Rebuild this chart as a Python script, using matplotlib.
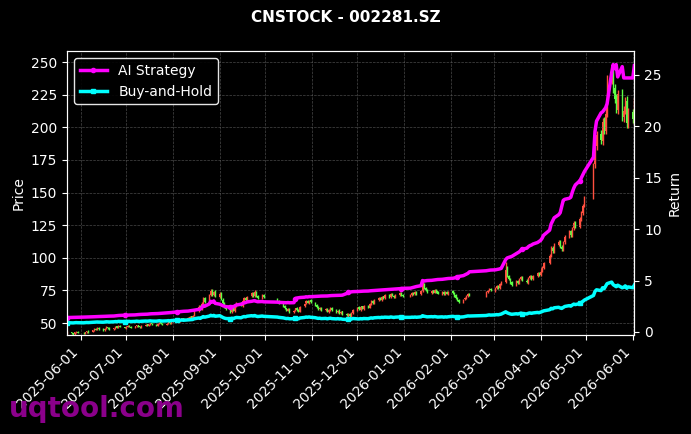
import matplotlib
matplotlib.use("Agg")
import matplotlib.pyplot as plt
import matplotlib.dates as mdates
import numpy as np
import pandas as pd

# exchange holidays (no candles on these weekdays)
holidays = ["2025-06-02", "2025-10-01", "2025-10-02", "2025-10-03", "2025-10-06",
            "2025-10-07", "2025-10-08", "2026-01-01", "2026-01-02", "2026-02-16",
            "2026-02-17", "2026-02-18", "2026-02-19", "2026-02-20", "2026-02-23",
            "2026-04-06", "2026-05-01", "2026-05-04", "2026-05-05"]
dates = pd.bdate_range("2025-05-23", "2026-06-02", freq="C", holidays=holidays)

opens = [
    42.4, 43.1, 42.3, 41.6, 42.9, 43.4,
    42.7, 42.1, 42.8, 43.9, 43.2, 44.4, 45.7, 44.9, 46.3, 45.5, 44.5, 45.9, 46.8, 46.2, 45.1, 46.1, 47.4, 46.4, 47.9, 46.9,
    46.3, 47.1, 47.9, 47.3, 46.4, 47.5, 48.3, 47.5, 46.8, 48.0, 48.9, 48.0, 49.1, 49.9, 48.8, 48.1, 49.4, 50.5, 49.5, 48.6, 49.6, 50.7, 49.7,
    51.0, 51.7, 52.5, 51.4, 52.9, 53.7, 52.6, 54.0, 55.1, 54.1, 55.8, 59.2, 62.7, 60.5, 65.3, 69.0, 66.0, 71.2, 74.8, 71.3, 74.2,
    70.2, 72.9, 68.0, 65.4, 62.0, 60.8, 58.6, 61.5, 59.4, 63.1, 65.2, 63.2, 66.9, 69.2, 67.1, 70.4, 73.1, 70.8, 73.9, 70.6, 69.0, 71.7,
    68.2, 66.8, 65.0, 63.3, 61.2, 59.6, 61.1, 58.5, 59.7, 61.5, 60.3, 58.7, 62.7, 65.0, 67.1, 65.3, 67.5,
    65.6, 64.1, 62.3, 60.6, 61.9, 59.7, 60.8, 58.6, 60.1, 61.7, 59.9, 58.2, 59.8, 57.7, 59.0, 57.3, 55.6, 57.1, 55.2, 57.8,
    60.0, 62.0, 60.2, 62.7, 60.8, 63.4, 61.9, 64.8, 67.0, 65.1, 67.7, 69.3, 67.8, 70.4, 69.2, 71.5, 69.9, 72.6, 71.0, 69.6, 71.7, 73.1, 71.4,
    70.9, 71.6, 73.2, 71.9, 73.8, 72.2, 74.7, 79.5, 77.0, 75.3, 73.2, 75.0, 73.3, 75.4, 74.2, 72.4, 74.1, 72.1, 74.0, 72.3,
    74.3, 73.0, 71.2, 69.4, 67.6, 65.9, 68.1, 69.3, 70.6, 72.2, 71.0, 73.7, 75.1, 76.4,
    74.8, 77.0, 78.7, 77.0, 79.8, 81.6, 91.2, 86.0, 83.7, 81.2, 79.2, 82.3, 80.4, 83.6, 85.2, 82.6, 81.0, 84.7, 86.3, 83.8, 86.0, 88.4,
    87.1, 89.8, 92.1, 96.2, 101.5, 107.9, 104.7, 110.1, 112.7, 108.3, 106.6, 111.8, 116.5, 120.2, 117.0, 122.8, 127.2, 123.8, 129.8, 134.5, 140.2,
    147.3, 172.0, 185.9, 195.1, 189.8, 204.5, 197.6, 211.0, 237.5, 245.0, 230.1, 222.4, 213.5, 226.3, 207.6, 213.3, 220.1, 202.9,
    211.8, 205.9,
]
highs = [
    43.6, 43.5, 42.7, 43.2, 44.1, 43.8,
    43.1, 43.3, 44.2, 44.3, 44.9, 46.1, 46.0, 46.7, 46.8, 45.9, 46.2, 47.4, 47.2, 46.6, 46.4, 47.8, 47.9, 48.3, 48.4, 47.3,
    47.5, 48.3, 48.3, 47.7, 47.9, 48.7, 48.7, 47.9, 48.4, 49.3, 49.3, 49.5, 50.3, 50.3, 49.2, 49.8, 50.9, 50.9, 49.9, 50.0, 51.1, 51.1, 51.4,
    52.1, 52.9, 52.9, 53.3, 54.1, 54.2, 54.4, 55.6, 55.6, 56.2, 59.8, 63.8, 63.5, 65.9, 70.1, 69.8, 72.0, 76.3, 75.8, 74.9, 75.1,
    73.8, 74.0, 68.9, 66.3, 62.9, 61.6, 62.1, 62.3, 63.6, 65.8, 66.1, 67.5, 69.8, 69.9, 71.0, 73.9, 73.8, 75.2, 74.6, 71.4, 72.2, 72.4,
    69.0, 67.5, 65.8, 63.9, 61.9, 61.5, 61.8, 60.2, 61.9, 62.2, 60.9, 63.1, 65.6, 67.6, 67.8, 68.0, 68.1,
    66.3, 64.8, 62.9, 62.4, 62.5, 61.3, 61.4, 60.9, 62.1, 62.3, 60.5, 60.3, 60.4, 59.4, 59.6, 57.9, 57.5, 57.7, 58.3, 61.0,
    62.6, 62.7, 63.2, 63.4, 63.9, 64.0, 65.3, 67.5, 67.6, 68.2, 69.8, 69.9, 70.9, 71.0, 72.0, 72.1, 73.1, 73.3, 71.7, 72.2, 73.6, 73.8, 72.0,
    72.5, 73.7, 73.9, 74.3, 74.5, 75.2, 81.3, 80.4, 77.7, 76.0, 75.5, 75.7, 75.9, 76.1, 74.8, 74.6, 74.8, 74.5, 74.7, 74.8,
    75.0, 73.7, 71.9, 70.1, 68.3, 68.6, 70.2, 71.5, 72.7, 72.9, 74.2, 75.6, 77.0, 77.1,
    77.6, 79.3, 79.5, 80.4, 82.2, 96.5, 93.4, 87.1, 84.5, 82.0, 82.9, 83.1, 84.2, 85.9, 86.0, 83.5, 85.3, 87.0, 87.1, 86.6, 89.1, 89.3,
    90.6, 93.5, 97.0, 102.6, 109.2, 109.4, 111.1, 113.8, 114.0, 109.7, 112.8, 117.6, 121.3, 121.4, 123.9, 128.3, 128.6, 131.0, 135.8, 141.5, 147.5,
    172.4, 190.2, 197.6, 198.3, 207.1, 207.9, 214.6, 240.3, 248.5, 247.9, 233.6, 225.3, 229.0, 229.7, 216.1, 223.2, 223.8, 215.0,
    214.2, 222.6,
]
lows = [
    41.9, 41.8, 40.9, 41.2, 42.5, 42.1,
    41.6, 41.7, 42.4, 42.7, 42.8, 44.0, 44.6, 44.5, 45.0, 44.1, 44.1, 45.5, 45.7, 44.8, 44.7, 45.7, 46.0, 46.0, 46.6, 45.9,
    45.8, 46.7, 46.8, 46.0, 45.9, 47.1, 47.2, 46.4, 46.4, 47.6, 47.7, 47.6, 48.7, 48.5, 47.7, 47.7, 49.0, 49.2, 48.2, 48.2, 49.1, 49.3, 49.3,
    50.5, 51.2, 51.0, 50.9, 52.4, 52.2, 52.1, 53.5, 53.6, 53.6, 55.2, 58.5, 60.0, 59.8, 64.6, 65.4, 65.4, 70.5, 71.0, 70.6, 70.0,
    69.5, 67.7, 64.3, 61.6, 59.8, 58.0, 58.0, 58.9, 58.8, 62.4, 62.8, 62.6, 66.2, 66.8, 66.4, 69.7, 70.3, 70.2, 70.3, 68.5, 68.4, 69.1,
    65.8, 64.5, 62.4, 60.8, 59.1, 59.0, 58.0, 57.9, 59.1, 59.5, 58.2, 58.1, 62.0, 64.3, 65.0, 64.7, 65.1,
    63.2, 61.5, 60.1, 60.0, 59.3, 59.1, 58.1, 58.0, 59.5, 59.0, 57.8, 57.6, 57.2, 57.1, 56.5, 55.1, 55.0, 54.8, 54.6, 57.1,
    59.4, 59.8, 59.6, 60.4, 60.2, 61.5, 61.3, 64.2, 64.7, 64.5, 67.1, 67.4, 67.2, 68.8, 68.6, 69.5, 69.3, 70.6, 69.2, 69.0, 71.1, 71.0, 69.8,
    70.3, 71.0, 71.5, 71.3, 71.8, 71.6, 74.1, 76.2, 74.5, 72.8, 72.6, 72.9, 72.7, 73.4, 72.0, 71.8, 71.7, 71.5, 71.9, 71.7,
    72.1, 70.3, 68.5, 66.7, 65.4, 65.2, 67.4, 68.6, 69.9, 70.5, 70.3, 73.0, 74.4, 74.3,
    74.1, 76.3, 76.4, 76.3, 79.1, 80.9, 85.4, 82.8, 80.2, 78.6, 78.5, 79.8, 79.7, 82.9, 82.0, 80.4, 80.3, 83.9, 83.2, 83.1, 85.3, 86.1,
    86.2, 88.9, 91.2, 95.3, 100.6, 103.6, 103.8, 109.0, 107.4, 105.5, 105.5, 110.7, 115.3, 115.9, 115.8, 121.6, 122.5, 122.6, 128.5, 133.1, 138.6,
    145.2, 168.7, 182.8, 187.4, 186.6, 195.3, 194.9, 207.8, 233.4, 226.1, 218.5, 210.8, 210.2, 204.7, 204.3, 209.9, 199.8, 199.5,
    203.1, 202.8,
]
closes = [
    43.0, 42.2, 41.5, 42.8, 43.5, 42.6,
    42.0, 42.9, 43.8, 43.1, 44.5, 45.6, 45.0, 46.2, 45.4, 44.6, 45.8, 46.9, 46.1, 45.2, 46.0, 47.3, 46.5, 47.8, 47.0, 46.4,
    47.0, 47.8, 47.2, 46.5, 47.4, 48.2, 47.6, 46.9, 47.9, 48.8, 48.1, 49.0, 49.8, 48.9, 48.2, 49.3, 50.4, 49.6, 48.7, 49.5, 50.6, 49.8, 50.9,
    51.6, 52.4, 51.5, 52.8, 53.6, 52.7, 53.9, 55.0, 54.2, 55.6, 58.9, 62.5, 60.8, 64.9, 68.7, 66.2, 70.8, 74.5, 71.6, 73.9, 70.5,
    72.6, 68.4, 65.1, 62.3, 60.5, 58.8, 61.2, 59.6, 62.8, 64.9, 63.5, 66.7, 68.9, 67.4, 70.2, 72.8, 71.1, 73.6, 70.9, 69.2, 71.4, 69.8,
    66.5, 65.2, 63.0, 61.4, 59.8, 60.9, 58.7, 59.5, 61.2, 60.1, 58.9, 62.4, 64.8, 66.9, 65.6, 67.2, 65.8,
    63.9, 62.1, 60.8, 61.7, 59.9, 60.6, 58.8, 60.3, 61.5, 59.7, 58.4, 59.6, 57.9, 58.8, 57.1, 55.8, 56.9, 55.4, 57.6, 60.2,
    61.8, 60.4, 62.5, 61.0, 63.2, 62.1, 64.6, 66.8, 65.3, 67.5, 69.1, 68.0, 70.2, 69.4, 71.3, 70.1, 72.4, 71.2, 69.8, 71.5, 72.9, 71.6, 70.4,
    71.8, 73.0, 72.1, 73.6, 72.4, 74.5, 79.2, 76.8, 75.1, 73.4, 74.8, 73.5, 75.2, 74.0, 72.6, 73.9, 72.3, 73.8, 72.5, 74.1,
    72.8, 71.0, 69.2, 67.4, 66.1, 67.9, 69.5, 70.8, 72.0, 71.2, 73.5, 74.9, 76.2, 75.0,
    76.8, 78.5, 77.2, 79.6, 81.3, 90.8, 86.2, 83.5, 81.0, 79.4, 82.1, 80.6, 83.4, 85.0, 82.8, 81.2, 84.5, 86.1, 84.0, 85.8, 88.2, 86.9,
    89.5, 92.4, 95.8, 101.2, 107.5, 105.0, 109.8, 112.4, 108.6, 106.9, 111.5, 116.2, 119.8, 117.3, 122.5, 126.8, 124.1, 129.5, 134.2, 139.8, 145.6,
    169.8, 186.5, 194.2, 190.6, 203.8, 198.5, 210.4, 236.9, 244.2, 229.5, 221.8, 214.3, 225.6, 208.2, 212.7, 219.5, 203.6, 211.2,
    206.5, 218.4,
]

# cumulative return curves (right axis)
ai_return = [
    1.40, 1.41, 1.41, 1.42, 1.43, 1.43,
    1.44, 1.45, 1.46, 1.46, 1.47, 1.48, 1.49, 1.50, 1.50, 1.51, 1.52, 1.53, 1.54, 1.54, 1.55, 1.57, 1.58, 1.60, 1.61, 1.62,
    1.63, 1.64, 1.65, 1.65, 1.66, 1.68, 1.69, 1.70, 1.71, 1.72, 1.73, 1.75, 1.76, 1.77, 1.78, 1.79, 1.80, 1.82, 1.83, 1.84, 1.86, 1.87, 1.89,
    1.91, 1.95, 1.96, 1.98, 2.00, 2.01, 2.03, 2.05, 2.06, 2.08, 2.12, 2.20, 2.22, 2.35, 2.55, 2.50, 2.72, 2.98, 2.90, 3.02, 2.78,
    2.70, 2.62, 2.55, 2.50, 2.46, 2.42, 2.47, 2.45, 2.55, 2.62, 2.70, 2.76, 2.82, 2.86, 2.92, 2.98, 3.02, 3.05, 2.98, 2.94, 2.96, 2.93,
    2.90, 2.88, 2.86, 2.85, 2.84, 2.86, 2.84, 2.85, 3.25, 3.30, 3.32, 3.35, 3.38, 3.42, 3.40, 3.44, 3.43,
    3.45, 3.46, 3.47, 3.48, 3.49, 3.50, 3.50, 3.52, 3.53, 3.54, 3.55, 3.56, 3.56, 3.57, 3.58, 3.75, 3.85, 3.88, 3.90, 3.92,
    3.93, 3.94, 3.95, 3.96, 3.97, 3.98, 4.00, 4.01, 4.02, 4.03, 4.05, 4.06, 4.08, 4.09, 4.10, 4.12, 4.13, 4.15, 4.16, 4.18, 4.20, 4.22, 4.24,
    4.26, 4.30, 4.34, 4.38, 4.42, 4.50, 5.00, 4.95, 4.98, 5.00, 5.02, 5.04, 5.06, 5.08, 5.10, 5.12, 5.14, 5.16, 5.18, 5.20,
    5.22, 5.25, 5.30, 5.35, 5.40, 5.48, 5.55, 5.62, 5.70, 5.85, 5.95, 5.98, 6.00, 6.02,
    6.04, 6.07, 6.10, 6.13, 6.18, 7.05, 7.20, 7.25, 7.30, 7.35, 7.62, 7.70, 7.80, 7.95, 8.05, 8.15, 8.30, 8.40, 8.45, 8.55, 8.70, 8.80,
    8.90, 9.10, 9.40, 9.90, 10.50, 10.80, 11.10, 11.40, 11.60, 12.20, 12.80, 12.90, 13.00, 13.10, 13.60, 14.00, 14.30, 14.70, 15.00, 15.30, 15.60,
    17.0, 19.5, 20.5, 21.3, 21.4, 21.6, 21.8, 22.2, 25.2, 26.0, 25.6, 26.0, 24.8, 25.8, 24.7, 24.7, 24.7, 24.7,
    24.7, 25.9,
]
bh_return = [
    0.90, 0.89, 0.88, 0.90, 0.91, 0.90,
    0.89, 0.91, 0.92, 0.91, 0.94, 0.96, 0.95, 0.97, 0.96, 0.95, 0.97, 0.99, 0.98, 0.97, 0.99, 1.01, 1.00, 1.03, 1.02, 1.01,
    1.02, 1.04, 1.03, 1.01, 1.03, 1.05, 1.04, 1.02, 1.04, 1.06, 1.05, 1.07, 1.08, 1.06, 1.05, 1.07, 1.09, 1.08, 1.06, 1.08, 1.10, 1.08, 1.11,
    1.12, 1.14, 1.12, 1.15, 1.16, 1.14, 1.17, 1.19, 1.18, 1.21, 1.28, 1.36, 1.32, 1.41, 1.49, 1.44, 1.54, 1.62, 1.56, 1.61, 1.53,
    1.58, 1.49, 1.41, 1.35, 1.31, 1.28, 1.33, 1.30, 1.37, 1.41, 1.38, 1.45, 1.50, 1.47, 1.53, 1.58, 1.55, 1.60, 1.54, 1.50, 1.55, 1.52,
    1.45, 1.42, 1.37, 1.34, 1.30, 1.32, 1.28, 1.29, 1.33, 1.31, 1.28, 1.36, 1.41, 1.45, 1.43, 1.46, 1.43,
    1.39, 1.35, 1.32, 1.34, 1.30, 1.32, 1.28, 1.31, 1.34, 1.30, 1.27, 1.30, 1.26, 1.28, 1.24, 1.21, 1.24, 1.20, 1.25, 1.31,
    1.28, 1.26, 1.30, 1.27, 1.31, 1.29, 1.33, 1.37, 1.34, 1.38, 1.41, 1.39, 1.43, 1.41, 1.44, 1.42, 1.46, 1.44, 1.41, 1.44, 1.46, 1.44, 1.42,
    1.42, 1.44, 1.43, 1.45, 1.43, 1.47, 1.58, 1.53, 1.50, 1.47, 1.49, 1.47, 1.50, 1.48, 1.45, 1.47, 1.44, 1.47, 1.45, 1.48,
    1.52, 1.49, 1.47, 1.45, 1.44, 1.47, 1.50, 1.53, 1.56, 1.55, 1.60, 1.63, 1.66, 1.64,
    1.66, 1.69, 1.67, 1.71, 1.74, 1.96, 1.86, 1.80, 1.75, 1.72, 1.77, 1.74, 1.79, 1.83, 1.78, 1.75, 1.82, 1.85, 1.81, 1.85, 1.90, 1.87,
    1.92, 1.98, 2.05, 2.16, 2.30, 2.25, 2.35, 2.40, 2.33, 2.29, 2.39, 2.48, 2.56, 2.51, 2.62, 2.71, 2.66, 2.77, 2.87, 2.98, 3.10,
    3.55, 3.95, 4.10, 4.02, 4.30, 4.20, 4.45, 4.70, 4.85, 4.60, 4.50, 4.40, 4.55, 4.30, 4.35, 4.48, 4.25, 4.38,
    4.30, 4.55,
]

x = mdates.date2num(dates.to_pydatetime())
o, h, l, c = map(np.array, (opens, highs, lows, closes))
up_color, down_color = "#ff4f3f", "#5cff45"
colors = np.where(c >= o, up_color, down_color)

fig = plt.figure(figsize=(6.91, 4.34), dpi=100, facecolor="black")
ax = fig.add_axes([0.097, 0.228, 0.821, 0.654])
ax.set_facecolor("black")

ax.vlines(x, l, h, colors=colors, linewidth=1.0)
ax.bar(x, np.maximum(np.abs(c - o), 0.4), bottom=np.minimum(o, c), width=0.75,
       color=colors, linewidth=0)

ax.set_xlim(x[0], x[-1])
ax.set_ylim(40.8, 258.4)
ax.set_yticks(np.arange(50, 251, 25))
ax.xaxis.set_major_locator(mdates.MonthLocator())
ax.xaxis.set_major_formatter(mdates.DateFormatter("%Y-%m-%d"))
ax.grid(True, color="#5a5a5a", linestyle="--", linewidth=0.5, alpha=0.8)
ax.set_ylabel("Price", color="white", fontsize=10)
for lbl in ax.get_xticklabels():
    lbl.set_rotation(45)
    lbl.set_ha("right")

ax2 = ax.twinx()
ax2.plot(x, ai_return, color="#ff00ff", linewidth=2.5, marker="o", markersize=3,
         markevery=25, label="AI Strategy")
ax2.plot(x, bh_return, color="#00ffff", linewidth=2.5, marker="s", markersize=3.5,
         markevery=25, label="Buy-and-Hold")
ax2.set_ylim(-0.3, 27.3)
ax2.set_yticks(np.arange(0, 26, 5))
ax2.set_ylabel("Return", color="white", fontsize=10)

for a in (ax, ax2):
    a.tick_params(colors="white", labelsize=10)
    for s in a.spines.values():
        s.set_color("white")

leg = ax2.legend(loc="upper left", facecolor="black", edgecolor="white",
                 labelcolor="white", fontsize=10, framealpha=0.9)

fig.text(0.5, 1 - 17 / 434, "CNSTOCK - 002281.SZ", color="white", fontsize=11,
         fontweight="bold", ha="center", va="center")
fig.text(0.013, 0.058, "uqtool.com", color="#8b008b", fontsize=20,
         fontweight="bold", ha="left", va="center", zorder=10)

fig.savefig("out.png", dpi=100, facecolor="black")
